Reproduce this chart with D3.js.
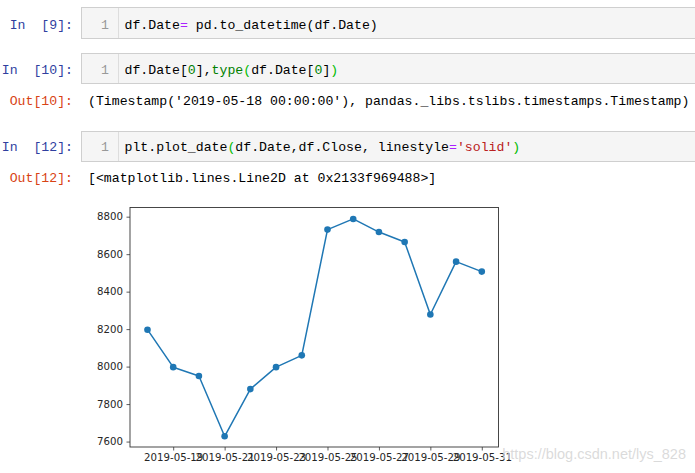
<!DOCTYPE html>
<html>
<head>
<meta charset="utf-8">
<script src="https://cdn.jsdelivr.net/npm/d3@7"></script>
<style>
  html, body { margin: 0; padding: 0; background: #fff; }
  svg { display: block; }
  .mono { font-family: "Liberation Mono", "DejaVu Sans Mono", monospace; font-size: 13.2px; white-space: pre; }
  .tick text { font-family: "DejaVu Sans", sans-serif; font-size: 10.2px; fill: #262626; }
</style>
</head>
<body>
<script>
// ---- data ----
const dates = ["2019-05-18","2019-05-19","2019-05-20","2019-05-21","2019-05-22","2019-05-23","2019-05-24",
               "2019-05-25","2019-05-26","2019-05-27","2019-05-28","2019-05-29","2019-05-30","2019-05-31"];
const closeValues = [8197, 7997, 7950, 7628, 7880, 7997, 8060, 8731, 8788, 8718, 8665, 8278, 8560, 8507];
const yTickValues = [7600, 7800, 8000, 8200, 8400, 8600, 8800];
const xTickLabels = ["2019-05-19","2019-05-21","2019-05-23","2019-05-25","2019-05-27","2019-05-29","2019-05-31"];

(function () {
const W = 695, H = 473;
const svg = d3.select("body").append("svg").attr("width", W).attr("height", H);

// ---- notebook cells ----
const C = { black: "#000", purple: "#AA22FF", green: "#008000", bgreen: "#00bb00", red: "#BA2121" };
const cells = [
  { prompt: "In  [9]:", y0: 7, y1: 38, base: 28.5,
    parts: [["df.Date", C.black], ["=", C.purple], [" pd.to_datetime(df.Date)", C.black]] },
  { prompt: "In  [10]:", y0: 53, y1: 83, base: 73.5,
    parts: [["df.Date[", C.black], ["0", C.green], ["],", C.black], ["type", C.green], ["(", C.bgreen],
            ["df.Date[", C.black], ["0", C.green], ["]", C.black], [")", C.bgreen]] },
  { prompt: "In  [12]:", y0: 131, y1: 161, base: 150.5,
    parts: [["plt.plot_date", C.black], ["(", C.bgreen], ["df.Date,df.Close, linestyle", C.black],
            ["=", C.purple], ["'solid'", C.red], [")", C.bgreen]] }
];
const outs = [
  { prompt: "Out[10]:", base: 105, text: "(Timestamp('2019-05-18 00:00:00'), pandas._libs.tslibs.timestamps.Timestamp)" },
  { prompt: "Out[12]:", base: 182, text: "[<matplotlib.lines.Line2D at 0x2133f969488>]" }
];

const nb = svg.append("g");
cells.forEach(c => {
  nb.append("rect").attr("x", 81.5).attr("y", c.y0 + 0.5).attr("width", 640).attr("height", c.y1 - c.y0)
    .attr("fill", "#f5f5f5").attr("stroke", "#cfcfcf").attr("stroke-width", 1);
  nb.append("line").attr("x1", 118.5).attr("x2", 118.5).attr("y1", c.y0 + 1).attr("y2", c.y1)
    .attr("stroke", "#dddddd");
  nb.append("text").attr("class", "mono").attr("x", 73).attr("y", c.base).attr("text-anchor", "end")
    .attr("fill", "#303F9F").text(c.prompt);
  nb.append("text").attr("class", "mono").attr("x", 109).attr("y", c.base).attr("text-anchor", "end")
    .attr("fill", "#999").text("1");
  const t = nb.append("text").attr("class", "mono").attr("x", 124.5).attr("y", c.base);
  c.parts.forEach(p => t.append("tspan").attr("fill", p[1]).text(p[0]));
});
outs.forEach(o => {
  nb.append("text").attr("class", "mono").attr("x", 73).attr("y", o.base).attr("text-anchor", "end")
    .attr("fill", "#D84315").text(o.prompt);
  nb.append("text").attr("class", "mono").attr("x", 88).attr("y", o.base).attr("fill", "#000").text(o.text);
});

// ---- chart ----
const parse = d3.utcParse("%Y-%m-%d");
const data = dates.map((d, i) => ({ date: parse(d), value: closeValues[i] }));
const day = 86400000;
const pl = 130, pr = 498.5, pt = 207.5, pb = 447;

const x = d3.scaleUtc()
  .domain([new Date(+data[0].date - 0.68 * day), new Date(+data[data.length - 1].date + 0.65 * day)])
  .range([pl, pr]);
const y = d3.scaleLinear().domain([7571, 8849]).range([pb, pt]);

const chart = svg.append("g");

const xAxis = d3.axisBottom(x)
  .tickValues(xTickLabels.map(parse))
  .tickFormat(d3.utcFormat("%Y-%m-%d"))
  .tickSize(3.5).tickPadding(3.5);
const yAxis = d3.axisLeft(y).tickValues(yTickValues).tickFormat(d3.format("d"))
  .tickSize(3.5).tickPadding(3.5);

const gx = chart.append("g").attr("transform", `translate(0,${pb})`).call(xAxis);
const gy = chart.append("g").attr("transform", `translate(${pl},0)`).call(yAxis);
[gx, gy].forEach(g => {
  g.select(".domain").remove();
  g.selectAll(".tick line").attr("stroke", "#333").attr("stroke-width", 0.8);
});

// frame
chart.append("rect").attr("x", pl).attr("y", pt).attr("width", pr - pl).attr("height", pb - pt)
  .attr("fill", "none").attr("stroke", "#333").attr("stroke-width", 0.9);

const line = d3.line().x(d => x(d.date)).y(d => y(d.value));
chart.append("path").datum(data).attr("d", line)
  .attr("fill", "none").attr("stroke", "#1f77b4").attr("stroke-width", 1.5).attr("stroke-linejoin", "round");
chart.selectAll("circle.pt").data(data).enter().append("circle").attr("class", "pt")
  .attr("cx", d => x(d.date)).attr("cy", d => y(d.value)).attr("r", 3.3).attr("fill", "#1f77b4");

// watermark
svg.append("text").attr("x", 686).attr("y", 459).attr("text-anchor", "end")
  .attr("font-family", "Liberation Sans, Arial, sans-serif").attr("font-size", 14.5)
  .attr("fill", "#d4d4d4").attr("fill-opacity", 0.85).text("https://blog.csdn.net/lys_828");
})();
</script>
</body>
</html>
